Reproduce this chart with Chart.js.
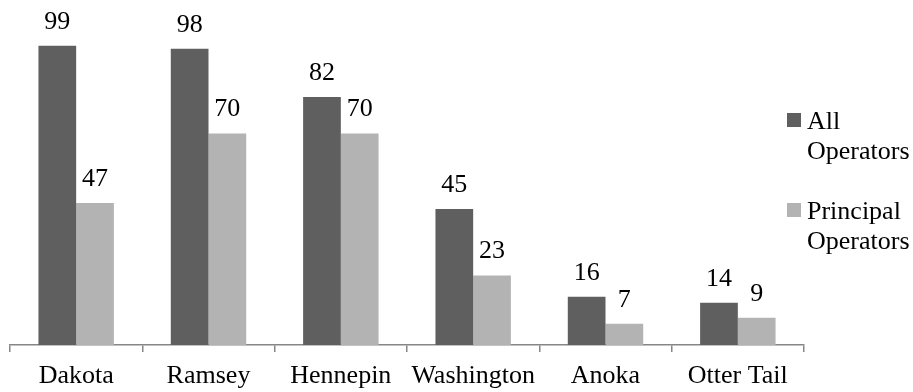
<!DOCTYPE html>
<html>
<head>
<meta charset="utf-8">
<script src="https://cdn.jsdelivr.net/npm/chart.js@4/dist/chart.umd.min.js"></script>
<style>
  html, body { margin: 0; padding: 0; background: #fff; }
  #wrap { width: 913px; height: 392px; position: relative; }
</style>
</head>
<body>
<div id="wrap"><canvas id="c" width="913" height="392"></canvas></div>
<script>
// Farm operators by county
const counties = ['Dakota', 'Ramsey', 'Hennepin', 'Washington', 'Anoka', 'Otter Tail'];
const allOperators = [99, 98, 82, 45, 16, 14];
const principalOperators = [47, 70, 70, 23, 7, 9];
const seriesNames = [['All', 'Operators'], ['Principal', 'Operators']];

const DARK = '#5f5f5f';
const LIGHT = '#b3b3b3';
const AXIS = '#868686';
const FONT = '"Liberation Serif", "Times New Roman", serif';

// Value labels above each bar
const valueLabels = {
  id: 'valueLabels',
  afterDatasetsDraw(chart) {
    const ctx = chart.ctx;
    ctx.save();
    ctx.font = '26px ' + FONT;
    ctx.fillStyle = '#000';
    ctx.textAlign = 'center';
    ctx.textBaseline = 'alphabetic';
    chart.data.datasets.forEach((ds, i) => {
      chart.getDatasetMeta(i).data.forEach((bar, j) => {
        ctx.fillText(String(ds.data[j]), bar.x, bar.y - 17);
      });
    });
    ctx.restore();
  }
};

// Legend on the right with two-line entries
const sideLegend = {
  id: 'sideLegend',
  afterDraw(chart) {
    const ctx = chart.ctx;
    ctx.save();
    ctx.font = '26px ' + FONT;
    ctx.textAlign = 'left';
    ctx.textBaseline = 'alphabetic';
    const colors = [DARK, LIGHT];
    const tops = [113, 203];
    seriesNames.forEach((lines, i) => {
      ctx.fillStyle = colors[i];
      ctx.fillRect(787, tops[i], 14, 14);
      ctx.fillStyle = '#000';
      lines.forEach((t, k) => ctx.fillText(t, 807, tops[i] + 16 + k * 30));
    });
    ctx.restore();
  }
};

new Chart(document.getElementById('c'), {
  type: 'bar',
  data: {
    labels: counties,
    datasets: [
      { label: seriesNames[0].join(' '), data: allOperators, backgroundColor: DARK,
        barPercentage: 1, categoryPercentage: 0.57 },
      { label: seriesNames[1].join(' '), data: principalOperators, backgroundColor: LIGHT,
        barPercentage: 1, categoryPercentage: 0.57 }
    ]
  },
  options: {
    responsive: false,
    animation: false,
    layout: { padding: { left: 10, right: 109, top: 42.7, bottom: 0 } },
    plugins: { legend: { display: false }, tooltip: { enabled: false } },
    scales: {
      x: {
        offset: true,
        grid: { offset: true, drawOnChartArea: false, drawTicks: true, tickLength: 7, color: AXIS, lineWidth: 1.5 },
        border: { display: true, color: AXIS, width: 1.5 },
        ticks: { color: '#000', font: { family: FONT, size: 26 }, padding: 9, maxRotation: 0, autoSkip: false },
        afterFit(scale) { scale.height = 47; }
      },
      y: {
        display: false,
        min: 0,
        max: 100
      }
    }
  },
  plugins: [valueLabels, sideLegend]
});
</script>
</body>
</html>
